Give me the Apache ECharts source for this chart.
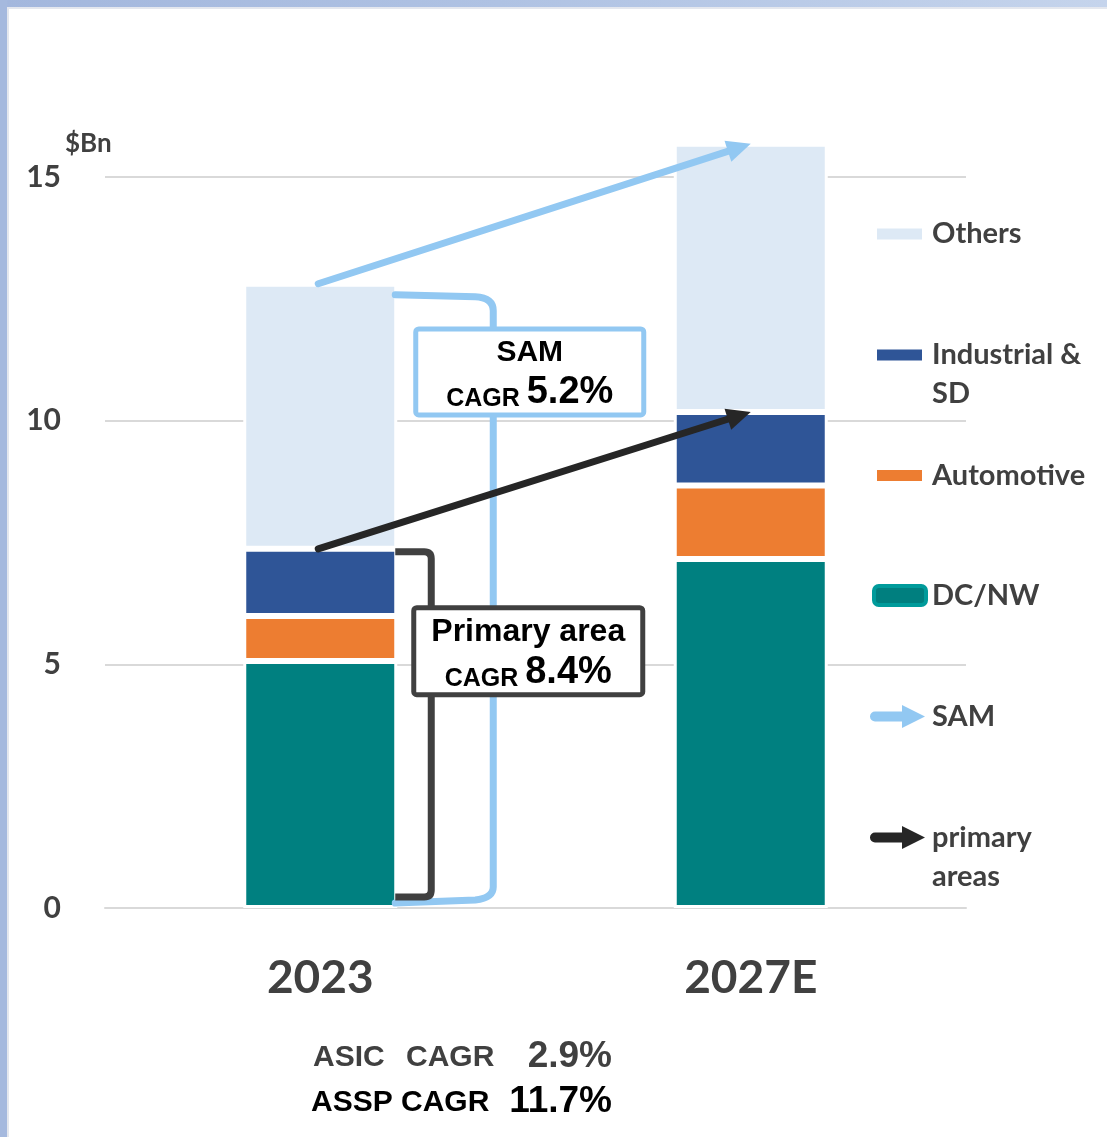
<!DOCTYPE html>
<html>
<head>
<meta charset="utf-8">
<title>SAM and primary areas, 2023 vs 2027E</title>
<script src="https://cdn.jsdelivr.net/npm/echarts@6/dist/echarts.min.js"></script>
<style>
  html, body { margin: 0; padding: 0; background: #fff; }
  #wrap { position: relative; width: 1107px; height: 1137px; overflow: hidden; }
  #chart { position: absolute; left: 0; top: 0; width: 1107px; height: 1137px; }
  .edge-top { position: absolute; left: 0; top: 0; width: 1107px; height: 7px;
    background: linear-gradient(90deg, #A3B7DD 0%, #AFC2E3 45%, #C5D4EC 100%); }
  .edge-left { position: absolute; left: 0; top: 0; width: 7px; height: 1137px; background: #A5B9DE; }
  .edge-inner { position: absolute; left: 7px; top: 7px; width: 1100px; height: 1130px;
    border-left: 2px solid #E4E7EE; border-top: 2px solid #E4E7EE; box-sizing: border-box; pointer-events: none; }
</style>
</head>
<body>
<div id="wrap">
  <div id="chart"></div>
  <div class="edge-inner"></div>
  <div class="edge-top"></div>
  <div class="edge-left"></div>
</div>
<script>
// ---- values ($Bn) ----
const years = ['2023', '2027E'];
const dcNw = [5.07, 7.16];
const automotive = [0.92, 1.51];
const industrialSd = [1.38, 1.51];
const others = [5.44, 5.50];

const yMax = 15;
const yStep = 5;

// ---- texts ----
const boxTitles = ['SAM', 'Primary area'];
const boxCagr = ['5.2%', '8.4%'];
const noteLeft = ['ASIC', 'ASSP'];
const noteValues = ['2.9%', '11.7%'];
const legendLabels = {
  'Others': 'Others',
  'Industrial & SD': 'Industrial &\nSD',
  'Automotive': 'Automotive',
  'DC/NW': 'DC/NW',
  'SAM': 'SAM',
  'primary areas': 'primary\nareas'
};

// ---- colours ----
const C = {
  dc: '#008080', auto: '#ED7D31', ind: '#2F5597', oth: '#DDE9F5',
  sam: '#92C8F2', prim: '#262626', bracket: '#404040', text: '#404040'
};

const primaryTotal = years.map((_, i) => dcNw[i] + automotive[i] + industrialSd[i]);
const samTotal = years.map((_, i) => primaryTotal[i] + others[i]);

const LEGEND_FONT = 'Lato';
const BOX_FONT = '"Liberation Sans", Arial, sans-serif';

function arrow(p0, p1, color, width, headLen, headW) {
  const dx = p1[0] - p0[0], dy = p1[1] - p0[1];
  const len = Math.hypot(dx, dy);
  const ux = dx / len, uy = dy / len;
  const bx = p1[0] - ux * headLen, by = p1[1] - uy * headLen;
  const px = -uy, py = ux;
  return [
    { type: 'line', shape: { x1: p0[0], y1: p0[1], x2: bx + ux * 3, y2: by + uy * 3 },
      style: { stroke: color, lineWidth: width, lineCap: 'round' } },
    { type: 'polygon', shape: { points: [[p1[0], p1[1]], [bx + px * headW / 2, by + py * headW / 2], [bx - px * headW / 2, by - py * headW / 2]] },
      style: { fill: color } }
  ];
}

function cagrBox(cx, cy, w, h, stroke, title, titleSize, pct) {
  return [
    { type: 'rect', shape: { x: cx - w / 2, y: cy - h / 2, width: w, height: h, r: 3 },
      style: { fill: '#fff', stroke: stroke, lineWidth: 5 } },
    { type: 'text', x: cx, y: cy - 19,
      style: { text: title, fill: '#000', fontSize: titleSize, fontWeight: 'bold', fontFamily: BOX_FONT,
               align: 'center', verticalAlign: 'middle' } },
    { type: 'text', x: cx, y: cy + 21,
      style: { text: '{c|CAGR }{p|' + pct + '}', align: 'center', verticalAlign: 'middle',
        rich: {
          c: { fontSize: 25, fontWeight: 'bold', fontFamily: BOX_FONT, fill: '#000', verticalAlign: 'bottom' },
          p: { fontSize: 38, fontWeight: 'bold', fontFamily: BOX_FONT, fill: '#000', verticalAlign: 'bottom' }
        } } }
  ];
}

function renderSam(params, api) {
  const p0 = api.coord([api.value(0), api.value(1)]);
  const p1 = api.coord([api.value(2), api.value(3)]);
  const base = api.coord([api.value(0), 0]);
  const cx = p0[0];
  const x0 = cx + 75, xv = cx + 173;
  const yT = p0[1] + 11, yB = base[1] - 5;
  const d = `M${x0},${yT} L${xv - 18},${yT + 2} Q${xv},${yT + 3} ${xv},${yT + 16} ` +
            `L${xv},${yB - 16} Q${xv},${yB - 5} ${xv - 18},${yB - 3} L${x0},${yB}`;
  const boxC = api.coord([api.value(0), 11.0]);
  return {
    type: 'group',
    children: [
      { type: 'path', shape: { pathData: d }, style: { stroke: C.sam, lineWidth: 7, fill: null, lineCap: 'round', lineJoin: 'round' } },
      ...cagrBox(cx + 209.5, boxC[1], 228, 86, C.sam, boxTitles[0], 30, boxCagr[0]),
      ...arrow([p0[0] - 2, p0[1]], p1, C.sam, 7, 24, 22)
    ]
  };
}

function renderPrimary(params, api) {
  const p0 = api.coord([api.value(0), api.value(1)]);
  const p1 = api.coord([api.value(2), api.value(3)]);
  const base = api.coord([api.value(0), 0]);
  const cx = p0[0];
  const x0 = cx + 75, xv = cx + 111;
  const yT = p0[1] + 3, yB = base[1] - 11;
  const d = `M${x0},${yT} L${xv - 7},${yT} Q${xv},${yT} ${xv},${yT + 7} ` +
            `L${xv},${yB - 7} Q${xv},${yB} ${xv - 7},${yB} L${x0},${yB}`;
  const boxC = api.coord([api.value(0), 5.27]);
  return {
    type: 'group',
    children: [
      { type: 'path', shape: { pathData: d }, style: { stroke: C.bracket, lineWidth: 7, fill: null, lineJoin: 'round' } },
      ...cagrBox(cx + 208, boxC[1], 229, 87, C.bracket, boxTitles[1], 32, boxCagr[1]),
      ...arrow([p0[0] - 2, p0[1]], p1, C.prim, 7, 24, 22)
    ]
  };
}

const ARROW_ICON = 'path://M5,6.5 L32,6.5 L32,0 L55,11.5 L32,23 L32,16.5 L5,16.5 A5,5 0 0 1 5,6.5 Z';

function legendFor(name, left, top, w, h, icon, twoLine, extraItemStyle, padLeft) {
  const item = { name: name, icon: icon };
  if (extraItemStyle) item.itemStyle = extraItemStyle;
  return {
    data: [item],
    left: left, top: top, padding: 0,
    orient: 'vertical', selectedMode: false,
    itemWidth: w, itemHeight: h,
    itemStyle: { borderWidth: 0 },
    formatter: n => legendLabels[n].split('\n').map(s => '{t|' + s + '}').join('\n'),
    textStyle: {
      padding: [twoLine ? 39 : 0, 0, 0, padLeft],
      rich: { t: { fontSize: 29, fontWeight: 'bold', fontFamily: LEGEND_FONT, color: C.text, lineHeight: 39 } }
    }
  };
}

const noteGraphics = [];
noteLeft.forEach((label, i) => {
  const base = 1067 + i * 45;
  const fill = i === 0 ? C.text : '#000';
  const labelStyle = { fill, fontSize: 30, fontWeight: 'bold', fontFamily: BOX_FONT };
  if (i === 0) {
    noteGraphics.push({ type: 'text', left: 313, top: base - 24, style: Object.assign({ text: label }, labelStyle) });
    noteGraphics.push({ type: 'text', left: 406, top: base - 24, style: Object.assign({ text: 'CAGR' }, labelStyle) });
  } else {
    noteGraphics.push({ type: 'text', left: 311, top: base - 24, style: Object.assign({ text: label + ' CAGR' }, labelStyle) });
  }
  noteGraphics.push({ type: 'text', right: 1107 - 612, top: base - 29,
    style: { text: noteValues[i], fill, fontSize: 37, fontWeight: 'bold', fontFamily: BOX_FONT } });
});

const chart = echarts.init(document.getElementById('chart'), null, { renderer: 'canvas' });

const barBase = { type: 'bar', stack: 'total', barWidth: 154, clip: false, z: 2,
  emphasis: { disabled: true } };
const barBorder = { borderColor: '#fff', borderWidth: 3 };

chart.setOption({
  animation: false,
  backgroundColor: '#fff',
  title: {
    text: '$Bn', left: 60, top: 126,
    textStyle: { fontSize: 26, fontWeight: 'bold', fontFamily: LEGEND_FONT, color: C.text }
  },
  grid: { left: 105, right: 141, top: 177, bottom: 229, containLabel: false },
  xAxis: {
    type: 'category', data: years,
    axisLine: { lineStyle: { color: '#D9D9D9', width: 2 } },
    axisTick: { show: false },
    axisLabel: { fontSize: 46, fontWeight: 'bold', fontFamily: LEGEND_FONT, color: C.text, margin: 47 }
  },
  yAxis: {
    type: 'value', min: 0, max: yMax, interval: yStep,
    axisLine: { show: false }, axisTick: { show: false },
    axisLabel: { fontSize: 30, fontWeight: 'bold', fontFamily: LEGEND_FONT, color: C.text, margin: 44 },
    splitLine: { lineStyle: { color: '#D9D9D9', width: 2 } }
  },
  legend: [
    legendFor('Others', 877, 219.5, 45, 11, 'rect', false, null, 5),
    legendFor('Industrial & SD', 877, 340.5, 45, 11, 'rect', true, null, 5),
    legendFor('Automotive', 877, 461, 45, 11, 'rect', false, null, 5),
    legendFor('DC/NW', 872, 581, 52, 19, 'roundRect', false, { color: '#007F7F', borderColor: '#009B9B', borderWidth: 4 }, 1),
    legendFor('SAM', 870, 702, 55, 23, ARROW_ICON, false, { color: C.sam }, 2),
    legendFor('primary areas', 870, 823, 55, 23, ARROW_ICON, true, { color: C.prim }, 2)
  ],
  series: [
    Object.assign({}, barBase, { name: 'DC/NW', data: dcNw, itemStyle: Object.assign({ color: C.dc }, barBorder) }),
    Object.assign({}, barBase, { name: 'Automotive', data: automotive, itemStyle: Object.assign({ color: C.auto }, barBorder) }),
    Object.assign({}, barBase, { name: 'Industrial & SD', data: industrialSd, itemStyle: Object.assign({ color: C.ind }, barBorder) }),
    Object.assign({}, barBase, { name: 'Others', data: others, itemStyle: Object.assign({ color: C.oth }, barBorder) }),
    {
      type: 'custom', name: 'SAM', z: 3, silent: true,
      itemStyle: { color: C.sam },
      encode: { x: [0, 2], y: [1, 3] },
      data: [[0, samTotal[0], 1, samTotal[1]]],
      renderItem: renderSam
    },
    {
      type: 'custom', name: 'primary areas', z: 4, silent: true,
      itemStyle: { color: C.prim },
      encode: { x: [0, 2], y: [1, 3] },
      data: [[0, primaryTotal[0], 1, primaryTotal[1]]],
      renderItem: renderPrimary
    }
  ],
  graphic: noteGraphics
});
</script>
</body>
</html>
